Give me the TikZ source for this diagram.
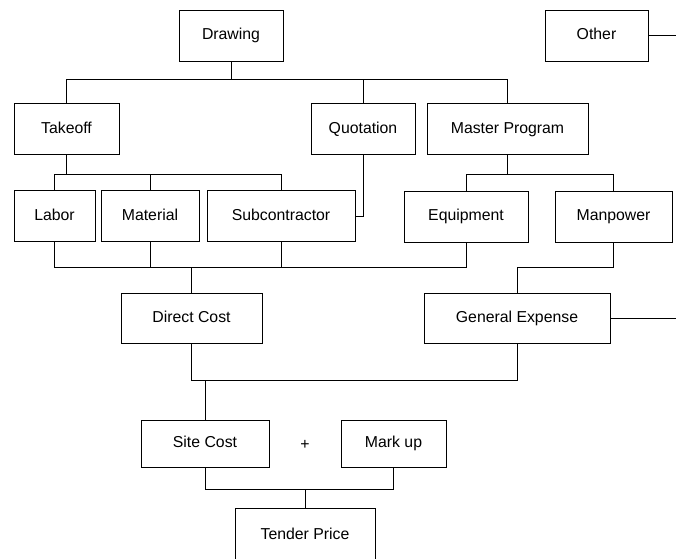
\documentclass[tikz,border=0pt]{standalone}
\usepackage{fontspec}
\setmainfont{Liberation Sans}
\usepackage{tikz}
\usetikzlibrary{positioning}
\tikzset{>=latex}
\tikzset{box/.style={draw, rectangle, inner sep=0pt, line width=0.55pt,
    minimum height=1.02cm, text height=6.6pt, text depth=1.6pt,
    font=\fontsize{9}{11}\selectfont}}
\tikzset{wire/.style={line width=0.55pt}}

\begin{document}
\begin{tikzpicture}[x=0.02cm, y=-0.02cm]
  \useasboundingbox (0,0) rectangle (676,558);
  % top row
  \node[box, minimum width=2.08cm] (drawing) at (231,35.5) {Drawing};
  \node[box, minimum width=2.06cm] (other) at (596.5,35.5) {Other};
  \node[box, minimum width=2.1cm] (takeoff) at (66.5,129) {Takeoff};
  \node[box, minimum width=2.08cm] (quotation) at (363,129) {Quotation};
  \node[box, minimum width=3.22cm] (master) at (507.5,129) {Master Program};
  % cost items
  \node[box, minimum width=1.62cm] (labor) at (54.5,216) {Labor};
  \node[box, minimum width=1.96cm] (material) at (150,216) {Material};
  \node[box, minimum width=2.96cm] (subcon) at (281,216) {Subcontractor};
  \node[box, minimum width=2.48cm] (equip) at (466,216.5) {Equipment};
  \node[box, minimum width=2.34cm] (manpower) at (613.5,216.5) {Manpower};
  \node[box, minimum width=2.82cm, minimum height=1cm] (direct) at (191.5,318) {Direct Cost};
  \node[box, minimum width=3.72cm, minimum height=1cm] (general) at (517,318) {General Expense};
  % totals
  \node[box, minimum width=2.56cm, minimum height=0.94cm] (site) at (205,443.5) {Site Cost};
  \node[box, minimum width=2.1cm, minimum height=0.94cm] (markup) at (393.5,443.5) {Mark up};
  \node[font=\fontsize{9}{11}\selectfont] (plus) at (305,445) {+};
  \node[box, minimum width=2.8cm, minimum height=1.08cm] (tender) at (305,535) {Tender Price};
  \coordinate (oend) at (676,35.5);
  \coordinate (gend) at (676,318);

  \draw[wire] (drawing.south) -- (drawing.south |- 0,79);
  \draw[wire] (takeoff.north) |- (master.north |- 0,79) -- (master.north);
  \draw[wire] (quotation.north) -- (quotation.north |- 0,79);
  \draw[wire] (other.east) -- (oend);

  \draw[wire] (takeoff.south) -- (takeoff.south |- 0,174);
  \draw[wire] (labor.north) |- (subcon.north |- 0,174) -- (subcon.north);
  \draw[wire] (material.north) -- (material.north |- 0,174);
  \draw[wire] (quotation.south) |- (subcon.east);
  \draw[wire] (master.south) -- (master.south |- 0,174);
  \draw[wire] (equip.north) |- (manpower.north |- 0,174) -- (manpower.north);

  \draw[wire] (labor.south) |- (equip.south |- 0,267) -- (equip.south);
  \draw[wire] (material.south) -- (material.south |- 0,267);
  \draw[wire] (subcon.south) -- (subcon.south |- 0,267);
  \draw[wire] (direct.north) -- (direct.north |- 0,267);
  \draw[wire] (manpower.south) |- (general.north |- 0,267) -- (general.north);
  \draw[wire] (general.east) -- (gend);

  \draw[wire] (direct.south) |- (general.south |- 0,380) -- (general.south);
  \draw[wire] (site.north) -- (site.north |- 0,380);
  \draw[wire] (site.south) |- (markup.south |- 0,489) -- (markup.south);
  \draw[wire] (tender.north) -- (tender.north |- 0,489);
\end{tikzpicture}
\end{document}
